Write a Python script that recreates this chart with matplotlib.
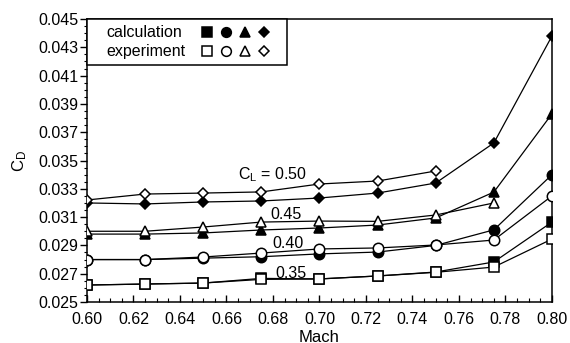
import matplotlib
matplotlib.use('Agg')
import matplotlib.pyplot as plt
from matplotlib.lines import Line2D
from matplotlib.legend_handler import HandlerTuple
from matplotlib.ticker import MultipleLocator, FormatStrFormatter

plt.rcParams['font.family'] = ['Liberation Sans', 'DejaVu Sans']
plt.rcParams['mathtext.default'] = 'regular'

# ---------------- data ----------------
mach = [0.600, 0.625, 0.650, 0.675, 0.700, 0.725, 0.750, 0.775, 0.800]

# calculation (filled markers)
calc_035 = [0.02620, 0.02627, 0.02634, 0.02667, 0.02663, 0.02684, 0.02712, 0.02783, 0.03065]
calc_040 = [0.02800, 0.02800, 0.02810, 0.02820, 0.02840, 0.02853, 0.02900, 0.03010, 0.03400]
calc_045 = [0.02980, 0.02980, 0.02988, 0.03009, 0.03023, 0.03044, 0.03094, 0.03277, 0.03830]
calc_050 = [0.03200, 0.03193, 0.03207, 0.03214, 0.03235, 0.03270, 0.03341, 0.03624, 0.04380]

# experiment (open markers)
exp_035 = [0.02620, 0.02627, 0.02634, 0.02660, 0.02663, 0.02684, 0.02710, 0.02747, 0.02945]
exp_040 = [0.02800, 0.02800, 0.02818, 0.02846, 0.02875, 0.02882, 0.02903, 0.02938, 0.03250]
exp_045 = [0.03000, 0.03000, 0.03030, 0.03065, 0.03072, 0.03070, 0.03115, 0.03200]
exp_050 = [0.03221, 0.03263, 0.03270, 0.03278, 0.03334, 0.03355, 0.03426]

cl_labels = ['C$_L$ = 0.50', '0.45', '0.40', '0.35']
cl_label_x = [0.680, 0.6856, 0.6865, 0.6877]
cl_label_y = [0.0340, 0.03115, 0.0291, 0.02701]

# ---------------- plot ----------------
fig = plt.figure(figsize=(5.7, 3.43), dpi=100)
ax = fig.add_axes([0.1526, 0.1195, 0.8158, 0.8251])

lw = 0.9
mew = 1.1
styles = [('s', 7), ('o', 7.5), ('^', 7), ('D', 5.5)]
calcs = [calc_035, calc_040, calc_045, calc_050]
exps = [exp_035, exp_040, exp_045, exp_050]

for (m, ms), cy in zip(styles, calcs):
    ax.plot(mach[:len(cy)], cy, color='black', lw=lw, marker=m, ms=ms,
            mfc='black', mec='black', mew=mew, zorder=3)
for (m, ms), ey in zip(styles, exps):
    ax.plot(mach[:len(ey)], ey, color='black', lw=lw, marker=m, ms=ms,
            mfc='white', mec='black', mew=mew, zorder=4)

for t, x, y in zip(cl_labels, cl_label_x, cl_label_y):
    ax.text(x, y, t, fontsize=11.5, ha='center', va='center', zorder=2)

ax.set_xlim(0.60, 0.80)
ax.set_ylim(0.025, 0.045)
ax.xaxis.set_major_locator(MultipleLocator(0.02))
ax.xaxis.set_minor_locator(MultipleLocator(0.005))
ax.yaxis.set_major_locator(MultipleLocator(0.002, offset=0.001))
ax.yaxis.set_minor_locator(MultipleLocator(0.0005))
ax.xaxis.set_major_formatter(FormatStrFormatter('%.2f'))
ax.yaxis.set_major_formatter(FormatStrFormatter('%.3f'))
ax.tick_params(axis='x', which='major', direction='in', length=5, width=1, pad=7, labelsize=11.5)
ax.tick_params(axis='x', which='minor', direction='in', length=3, width=0.8)
ax.tick_params(axis='y', which='major', direction='out', length=5, width=1, pad=1, labelsize=11.5)
ax.tick_params(axis='y', which='minor', direction='out', length=2.5, width=0.8)
for s in ax.spines.values():
    s.set_linewidth(1.1)

ax.set_xlabel('Mach', fontsize=12, labelpad=2)
ax.set_ylabel('C$_D$', fontsize=12, labelpad=7)

# legend: label followed by the four markers
def mk(m, ms, fc):
    return Line2D([], [], ls='none', marker=m, ms=ms - 0.5, mfc=fc, mec='black', mew=mew)

h_calc = tuple(mk(m, ms, 'black') for m, ms in styles)
h_exp = tuple(mk(m, ms, 'white') for m, ms in styles)
leg = ax.legend([h_calc, h_exp], ['calculation', 'experiment'],
                handler_map={tuple: HandlerTuple(ndivide=None, pad=0.71)},
                loc='upper left', bbox_to_anchor=(0.0344, 0.9894),
                markerfirst=False, handlelength=4.05,
                handletextpad=1.1, borderaxespad=0, borderpad=0.2,
                labelspacing=0.25, fontsize=11.5, fancybox=False,
                framealpha=1, edgecolor='black')
frame = leg.get_frame()
frame.set_linewidth(1.1)
# wide side padding, thin top/bottom padding
frame.set_boxstyle('square', pad=1.0)
frame.set_mutation_aspect(0.19)
leg.set_zorder(5)

# rows are right-aligned by matplotlib; left-align the label texts
r = fig.canvas.get_renderer()
texts = leg.get_texts()
widths = [t.get_window_extent(r).width for t in texts]
for t, w in zip(texts, widths):
    t.set_position((w - max(widths), 0))

fig.savefig('out.png', dpi=100)
